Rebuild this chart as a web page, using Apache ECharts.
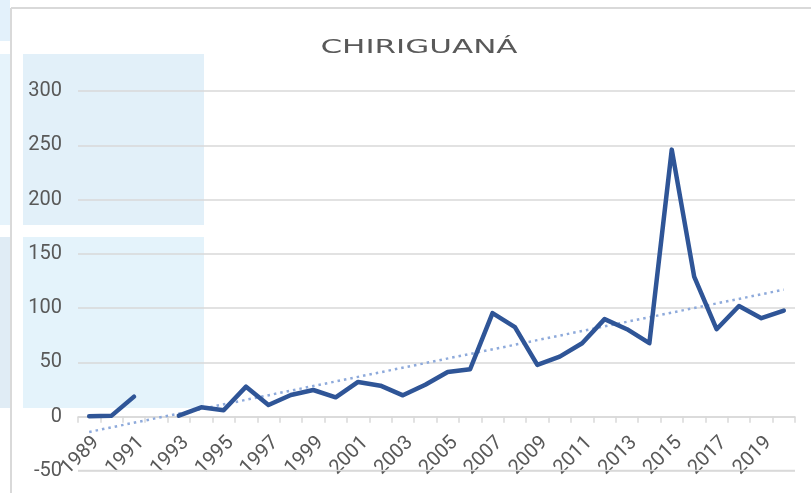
<!DOCTYPE html>
<html>
<head>
<meta charset="utf-8">
<script src="https://cdn.jsdelivr.net/npm/echarts@6/dist/echarts.min.js"></script>
<style>html,body{margin:0;padding:0;background:#fff;}#c{width:811px;height:493px;}</style>
</head>
<body>
<div id="c"></div>
<script>
const years = ['1989','1990','1991','1992','1993','1994','1995','1996','1997','1998','1999','2000','2001','2002','2003','2004','2005','2006','2007','2008','2009','2010','2011','2012','2013','2014','2015','2016','2017','2018','2019','2020'];
const values = [0.5, 1, 18.5, null, 1, 8.7, 6, 27.7, 10.8, 20, 24.6, 17.9, 32, 28.6, 19.7, 29.5, 41.2, 43.7, 95.4, 82.5, 47.7, 55.4, 67.7, 89.9, 80.6, 67.7, 246, 129, 80.6, 102, 90.7, 97.8];
const trendEnds = [-14, 117];   // trend line value at first and last year
const yTicks = [-50, 0, 50, 100, 150, 200, 250, 300];
const title = 'CHIRIGUANÁ';

const trendData = years.map((y, i) => i === 0 ? trendEnds[0] : (i === years.length - 1 ? trendEnds[1] : null));

const gridTop = 91, gridBottom = 22, gridLeft = 78, gridRight = 16, W = 811, H = 493;
const yMin = yTicks[0], yMax = yTicks[yTicks.length - 1];
// move the category axis up to the value 0 line
const zeroOffset = -((H - gridTop - gridBottom) * (0 - yMin) / (yMax - yMin));

const chart = echarts.init(document.getElementById('c'));
const txt = '#595959';
chart.setOption({
  animation: false,
  backgroundColor: '#ffffff',
  graphic: [
    { type: 'rect', z: -10, shape: { x: 0, y: 0, width: 10, height: 41 }, style: { fill: '#e3f1fb' } },
    { type: 'rect', z: -10, shape: { x: 0, y: 54, width: 10, height: 171 }, style: { fill: '#e6f3fb' } },
    { type: 'rect', z: -10, shape: { x: 0, y: 237, width: 10, height: 171 }, style: { fill: '#e0ecf5' } },
    { type: 'rect', z: -10, shape: { x: 23, y: 54, width: 181, height: 171 }, style: { fill: '#e2f0f9' } },
    { type: 'rect', z: -10, shape: { x: 23, y: 237, width: 181, height: 171 }, style: { fill: '#e4f3fb' } },
    { type: 'line', z: -9, shape: { x1: 11, y1: 8, x2: 11, y2: 493 }, style: { stroke: '#d9d9d9', lineWidth: 2 } },
    { type: 'line', z: -9, shape: { x1: 11, y1: 8, x2: 811, y2: 8 }, style: { stroke: '#d9d9d9', lineWidth: 2 } },
    // gridline along the bottom edge of the plot (value-axis minimum)
    { type: 'line', z: 1, shape: { x1: gridLeft, y1: H - gridBottom - 0.5, x2: W - gridRight, y2: H - gridBottom - 0.5 },
      style: { stroke: '#d9d9d9', lineWidth: 1.5 } },
    { type: 'text', z: 10, x: 419, y: 48, scaleX: 1.55,
      style: { text: title, x: 0, y: 0, align: 'center', verticalAlign: 'middle', fill: txt,
               font: 'normal 20px "DejaVu Sans"' } }
  ],
  grid: { left: gridLeft, right: gridRight, top: gridTop, bottom: gridBottom, containLabel: false, outerBoundsMode: 'none' },
  xAxis: {
    type: 'category',
    data: years,
    boundaryGap: true,
    offset: zeroOffset,
    axisLine: { onZero: false, lineStyle: { color: '#d9d9d9', width: 1.5 } },
    axisTick: { show: true, interval: 0, length: 6, lineStyle: { color: '#d9d9d9', width: 1.5 } },
    axisLabel: { interval: 1, rotate: 45, margin: 16, verticalAlign: 'top', color: txt, fontFamily: 'Roboto', fontSize: 20 },
    splitLine: { show: false }
  },
  yAxis: {
    type: 'value',
    min: yMin,
    max: yMax,
    interval: yTicks[1] - yTicks[0],
    axisLine: { show: false },
    axisTick: { show: false },
    axisLabel: { color: txt, fontFamily: 'Roboto', fontSize: 20, margin: 16 },
    splitLine: { showMinLine: true, showMaxLine: true, lineStyle: { color: '#d9d9d9', width: 1.5 } }
  },
  series: [
    {
      type: 'line',
      data: trendData,
      connectNulls: true,
      showSymbol: false,
      symbol: 'none',
      lineStyle: { color: '#8eaadb', width: 2.5, type: [2.5, 4] },
      z: 3
    },
    {
      type: 'line',
      data: values,
      connectNulls: false,
      showSymbol: false,
      symbol: 'none',
      lineStyle: { color: '#2f5597', width: 4.5, cap: 'round', join: 'round' },
      z: 4
    }
  ]
});
</script>
</body>
</html>
